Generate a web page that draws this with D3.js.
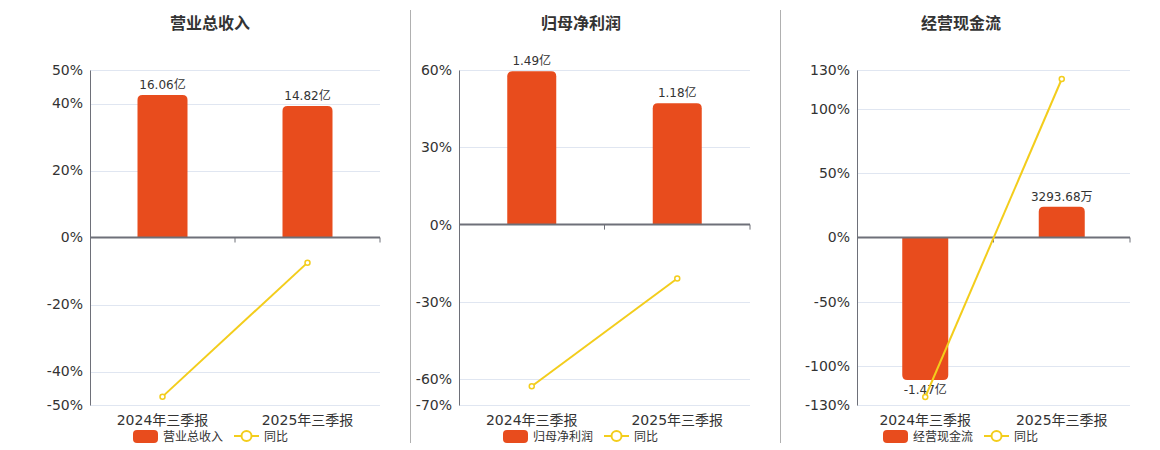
<!DOCTYPE html>
<html>
<head>
<meta charset="utf-8">
<script src="https://cdn.jsdelivr.net/npm/d3@7/dist/d3.min.js"></script>
<style>
  html, body { margin: 0; padding: 0; background: #fff; }
  svg { display: block; font-family: "DejaVu Sans", "Noto Sans CJK SC", sans-serif; }
</style>
</head>
<body>
<svg id="chart" width="1160" height="450"></svg>
<script>
// ---- data ----
const categories = ["2024年三季报", "2025年三季报"];

const revenueTitle = "营业总收入";
const revenueValues = [16.06, 14.82];
const revenueLabels = ["16.06亿", "14.82亿"];
const revenueYoY = [-47.5, -7.5];
const revenueTicks = [50, 40, 20, 0, -20, -40, -50];

const profitTitle = "归母净利润";
const profitValues = [1.49, 1.18];
const profitLabels = ["1.49亿", "1.18亿"];
const profitYoY = [-62.7, -20.9];
const profitTicks = [60, 30, 0, -30, -60, -70];

const cashTitle = "经营现金流";
const cashValues = [-1.47, 0.329368];
const cashLabels = ["-1.47亿", "3293.68万"];
const cashYoY = [-123.8, 123];
const cashTicks = [130, 100, 50, 0, -50, -100, -130];

const yoyName = "同比";

// ---- layout ----
const BAR_COLOR = "#e84c1d";
const LINE_COLOR = "#f3cd1c";
const AXIS_COLOR = "#6e7079";
const GRID_COLOR = "#e0e6f1";
const TEXT_COLOR = "#333";

const panels = [
  { title: revenueTitle, values: revenueValues, labels: revenueLabels, yoy: revenueYoY, ticks: revenueTicks,
    left: 90, right: 380, titleX: 210, legendX: 133, barDomain: [-18.75, 18.87], barW: 50 },
  { title: profitTitle, values: profitValues, labels: profitLabels, yoy: profitYoY, ticks: profitTicks,
    left: 459, right: 750, titleX: 581, legendX: 503, barDomain: [-1.745, 1.503], barW: 49 },
  { title: cashTitle, values: cashValues, labels: cashLabels, yoy: cashYoY, ticks: cashTicks,
    left: 857, right: 1130, titleX: 961, legendX: 883, barDomain: [-1.73, 1.75], barW: 46 }
];
const TOP = 70, BOTTOM = 405;

const svg = d3.select("#chart");

// separators
[410.5, 780.5].forEach(x => {
  svg.append("line").attr("x1", x).attr("x2", x).attr("y1", 10).attr("y2", 443)
    .attr("stroke", "#b0b0b0").attr("stroke-width", 1);
});

function barPath(x, w, y0, y1, r) {
  // rounded on the end away from zero
  if (y1 < y0) {
    const h = y0 - y1; r = Math.min(r, h, w / 2);
    return `M${x},${y0}V${y1 + r}Q${x},${y1} ${x + r},${y1}H${x + w - r}Q${x + w},${y1} ${x + w},${y1 + r}V${y0}Z`;
  } else {
    const h = y1 - y0; r = Math.min(r, h, w / 2);
    return `M${x},${y0}V${y1 - r}Q${x},${y1} ${x + r},${y1}H${x + w - r}Q${x + w},${y1} ${x + w},${y1 - r}V${y0}Z`;
  }
}

panels.forEach(p => {
  const g = svg.append("g");
  const tMax = d3.max(p.ticks), tMin = d3.min(p.ticks);
  const y = d3.scaleLinear().domain([tMin, tMax]).range([BOTTOM, TOP]);
  const yBar = d3.scaleLinear().domain(p.barDomain).range([BOTTOM, TOP]);
  const x = d3.scaleBand().domain(categories).range([p.left, p.right]);

  // title
  g.append("text").attr("x", p.titleX).attr("y", 29).attr("text-anchor", "middle")
    .attr("font-size", 16).attr("font-weight", "bold").attr("fill", TEXT_COLOR)
    .attr("font-family", "'Noto Sans CJK SC', sans-serif").text(p.title);

  // grid
  g.selectAll("line.grid").data(p.ticks.filter(t => t !== 0)).enter().append("line")
    .attr("x1", p.left).attr("x2", p.right)
    .attr("y1", d => Math.round(y(d)) + 0.5).attr("y2", d => Math.round(y(d)) + 0.5)
    .attr("stroke", GRID_COLOR).attr("stroke-width", 1);

  // y axis
  const yAxis = d3.axisLeft(y).tickValues(p.ticks).tickFormat(d => d + "%").tickSize(0).tickPadding(7);
  const ya = g.append("g").attr("transform", `translate(${p.left},0)`).call(yAxis);
  ya.select(".domain").attr("stroke", AXIS_COLOR);
  ya.selectAll("text").attr("font-size", 14).attr("fill", TEXT_COLOR)
    .attr("font-family", "'DejaVu Sans', sans-serif");

  // bars
  const zero = y(0);
  g.selectAll("path.bar").data(p.values).enter().append("path")
    .attr("d", (d, i) => {
      const cx = x(categories[i]) + x.bandwidth() / 2;
      return barPath(cx - p.barW / 2, p.barW, zero, yBar(d), 5);
    })
    .attr("fill", BAR_COLOR);

  // x axis (zero line)
  const xAxis = d3.axisBottom(x).tickSize(5).tickFormat("");
  const xa = g.append("g").attr("transform", `translate(0,${zero})`).call(xAxis);
  xa.select(".domain").attr("stroke", AXIS_COLOR).attr("stroke-width", 2)
    .attr("d", `M${p.left},0H${p.right}`);
  xa.selectAll(".tick").remove();
  // boundary ticks
  const bounds = [x(categories[1]), p.right];
  g.selectAll("line.xt").data(bounds).enter().append("line")
    .attr("x1", d => d).attr("x2", d => d).attr("y1", zero).attr("y2", zero + 5)
    .attr("stroke", AXIS_COLOR).attr("stroke-width", 1);

  // category labels
  g.selectAll("text.cat").data(categories).enter().append("text")
    .attr("x", d => x(d) + x.bandwidth() / 2).attr("y", 425).attr("text-anchor", "middle")
    .attr("font-size", 14).attr("fill", TEXT_COLOR).text(d => d);

  // bar labels
  g.selectAll("text.bl").data(p.values).enter().append("text")
    .attr("x", (d, i) => x(categories[i]) + x.bandwidth() / 2)
    .attr("y", d => d >= 0 ? yBar(d) - 6 : yBar(d) + 14)
    .attr("text-anchor", "middle").attr("font-size", 12).attr("fill", TEXT_COLOR)
    .text((d, i) => p.labels[i]);

  // line
  const line = d3.line().x((d, i) => x(categories[i]) + x.bandwidth() / 2).y(d => y(d));
  g.append("path").datum(p.yoy).attr("d", line).attr("fill", "none")
    .attr("stroke", LINE_COLOR).attr("stroke-width", 2);
  g.selectAll("circle.pt").data(p.yoy).enter().append("circle")
    .attr("cx", (d, i) => x(categories[i]) + x.bandwidth() / 2).attr("cy", d => y(d))
    .attr("r", 2.5).attr("fill", "#fff").attr("stroke", LINE_COLOR).attr("stroke-width", 1.5);

  // legend
  const lg = g.append("g").attr("transform", `translate(${p.legendX},436)`);
  lg.append("rect").attr("x", 0).attr("y", -6).attr("width", 25).attr("height", 13).attr("rx", 4)
    .attr("fill", BAR_COLOR);
  const t1 = lg.append("text").attr("x", 30).attr("y", 4.5).attr("font-size", 12).attr("fill", TEXT_COLOR)
    .attr("font-family", "'Noto Sans CJK SC', sans-serif").text(p.title);
  const w1 = t1.node().getComputedTextLength();
  const lx = 30 + w1 + 11;
  lg.append("line").attr("x1", lx).attr("x2", lx + 25).attr("y1", 0).attr("y2", 0)
    .attr("stroke", LINE_COLOR).attr("stroke-width", 2);
  lg.append("circle").attr("cx", lx + 12.5).attr("cy", 0).attr("r", 5)
    .attr("fill", "#fff").attr("stroke", LINE_COLOR).attr("stroke-width", 2);
  lg.append("text").attr("x", lx + 30).attr("y", 4.5).attr("font-size", 12).attr("fill", TEXT_COLOR)
    .attr("font-family", "'Noto Sans CJK SC', sans-serif").text(yoyName);
});
</script>
</body>
</html>
